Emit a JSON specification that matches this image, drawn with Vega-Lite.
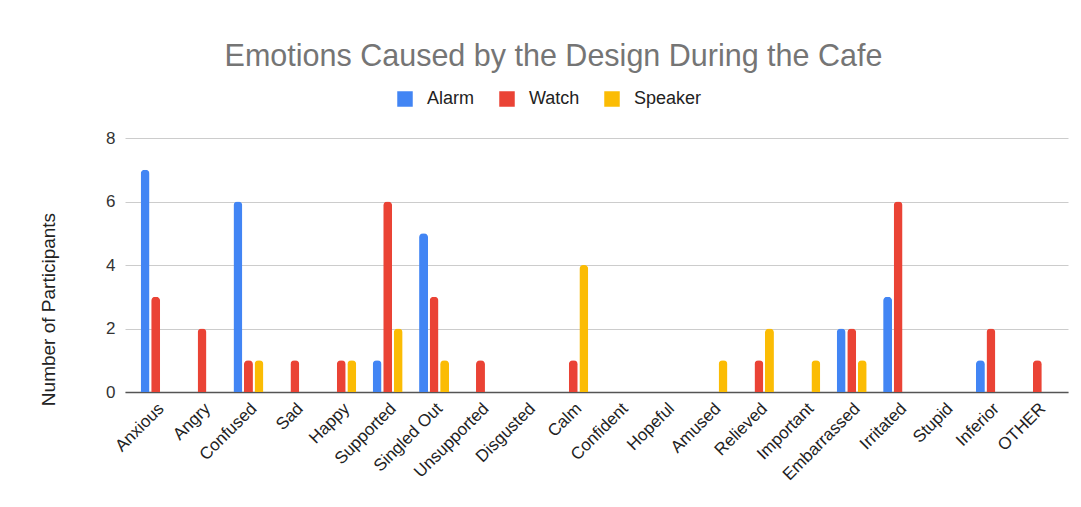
{
  "$schema": "https://vega.github.io/schema/vega-lite/v6.json",
  "width": 943,
  "height": 254,
  "autosize": {"type": "none"},
  "padding": {"left": 125, "top": 138, "right": 13, "bottom": 115},
  "background": "white",
  "title": {
    "text": "Emotions Caused by the Design During the Cafe",
    "anchor": "middle",
    "frame": "bounds",
    "font": "Liberation Sans",
    "fontSize": 30.5,
    "fontWeight": "normal",
    "color": "#757575",
    "offset": 18
  },
  "data": {
    "values": [
      {"emotion": "Anxious", "device": "Alarm", "count": 7},
      {"emotion": "Anxious", "device": "Watch", "count": 3},
      {"emotion": "Angry", "device": "Watch", "count": 2},
      {"emotion": "Confused", "device": "Alarm", "count": 6},
      {"emotion": "Confused", "device": "Watch", "count": 1},
      {"emotion": "Confused", "device": "Speaker", "count": 1},
      {"emotion": "Sad", "device": "Watch", "count": 1},
      {"emotion": "Happy", "device": "Watch", "count": 1},
      {"emotion": "Happy", "device": "Speaker", "count": 1},
      {"emotion": "Supported", "device": "Alarm", "count": 1},
      {"emotion": "Supported", "device": "Watch", "count": 6},
      {"emotion": "Supported", "device": "Speaker", "count": 2},
      {"emotion": "Singled Out", "device": "Alarm", "count": 5},
      {"emotion": "Singled Out", "device": "Watch", "count": 3},
      {"emotion": "Singled Out", "device": "Speaker", "count": 1},
      {"emotion": "Unsupported", "device": "Watch", "count": 1},
      {"emotion": "Calm", "device": "Watch", "count": 1},
      {"emotion": "Calm", "device": "Speaker", "count": 4},
      {"emotion": "Amused", "device": "Speaker", "count": 1},
      {"emotion": "Relieved", "device": "Watch", "count": 1},
      {"emotion": "Relieved", "device": "Speaker", "count": 2},
      {"emotion": "Important", "device": "Speaker", "count": 1},
      {"emotion": "Embarrassed", "device": "Alarm", "count": 2},
      {"emotion": "Embarrassed", "device": "Watch", "count": 2},
      {"emotion": "Embarrassed", "device": "Speaker", "count": 1},
      {"emotion": "Irritated", "device": "Alarm", "count": 3},
      {"emotion": "Irritated", "device": "Watch", "count": 6},
      {"emotion": "Inferior", "device": "Alarm", "count": 1},
      {"emotion": "Inferior", "device": "Watch", "count": 2},
      {"emotion": "OTHER", "device": "Watch", "count": 1}
    ]
  },
  "mark": {"type": "bar", "cornerRadiusTopLeft": 4, "cornerRadiusTopRight": 4},
  "encoding": {
    "x": {
      "field": "emotion",
      "type": "nominal",
      "sort": ["Anxious", "Angry", "Confused", "Sad", "Happy", "Supported", "Singled Out", "Unsupported", "Disgusted", "Calm", "Confident", "Hopeful", "Amused", "Relieved", "Important", "Embarrassed", "Irritated", "Stupid", "Inferior", "OTHER"],
      "scale": {
        "domain": ["Anxious", "Angry", "Confused", "Sad", "Happy", "Supported", "Singled Out", "Unsupported", "Disgusted", "Calm", "Confident", "Hopeful", "Amused", "Relieved", "Important", "Embarrassed", "Irritated", "Stupid", "Inferior", "OTHER"],
        "paddingInner": 0.353,
        "paddingOuter": 0.337
      },
      "axis": {
        "title": null,
        "labelAngle": -45,
        "labelAlign": "right",
        "labelBaseline": "top",
        "labelPadding": 8,
        "labelFont": "Liberation Sans",
        "labelFontSize": 17,
        "labelColor": "#222222",
        "ticks": false,
        "domain": true,
        "domainColor": "#555555",
        "domainWidth": 1.5,
        "grid": false
      }
    },
    "xOffset": {
      "field": "device",
      "type": "nominal",
      "sort": ["Alarm", "Watch", "Speaker"],
      "scale": {"domain": ["Alarm", "Watch", "Speaker"], "paddingInner": 0.15, "paddingOuter": 0}
    },
    "y": {
      "field": "count",
      "type": "quantitative",
      "scale": {"domain": [0, 8], "nice": false},
      "axis": {
        "title": "Number of Participants",
        "titleFont": "Liberation Sans",
        "titleFontSize": 19,
        "titleFontWeight": "normal",
        "titleColor": "#222222",
        "titleX": -77,
        "titleY": 171,
        "titleAngle": -90,
        "titleAlign": "center",
        "titleBaseline": "middle",
        "values": [0, 2, 4, 6, 8],
        "labelFont": "Liberation Sans",
        "labelFontSize": 17,
        "labelColor": "#333333",
        "labelPadding": 10,
        "ticks": false,
        "domain": false,
        "gridColor": "#cccccc",
        "gridWidth": 1
      }
    },
    "color": {
      "field": "device",
      "type": "nominal",
      "scale": {"domain": ["Alarm", "Watch", "Speaker"], "range": ["#4285F4", "#EA4335", "#FBBC04"]},
      "legend": {
        "title": null,
        "orient": "none",
        "legendX": 271,
        "legendY": -48,
        "direction": "horizontal",
        "symbolType": "square",
        "symbolSize": 240,
        "symbolStrokeWidth": 0,
        "labelFont": "Liberation Sans",
        "labelFontSize": 18,
        "labelColor": "#222222",
        "labelOffset": 13,
        "columnPadding": 23
      }
    }
  },
  "config": {
    "view": {"stroke": null}
  }
}
